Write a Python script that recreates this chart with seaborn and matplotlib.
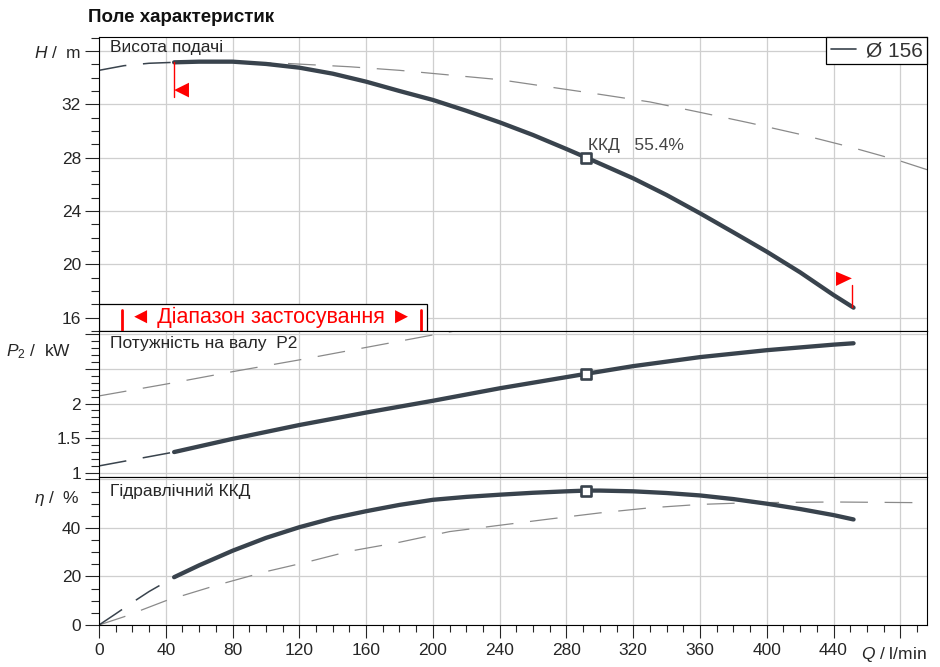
import matplotlib.pyplot as plt
import seaborn as sns
from matplotlib.ticker import MultipleLocator, FixedLocator
from matplotlib.lines import Line2D
from matplotlib.patches import Rectangle, Polygon

# --- data (Q in l/min) ---
q_h = [45, 60, 80, 100, 120, 140, 160, 180, 200, 220, 240, 260, 280, 292,
       320, 340, 360, 380, 400, 420, 440, 452]
h = [35.15, 35.2, 35.2, 35.03, 34.75, 34.3, 33.7, 33.0, 32.33, 31.52, 30.65, 29.7, 28.65, 28.0,
     26.45, 25.2, 23.83, 22.4, 20.95, 19.4, 17.7, 16.75]
q_h_ext = [0, 15, 30, 45]
h_ext = [34.55, 34.9, 35.08, 35.15]
q_h_alt = [60, 112, 150, 180, 210, 240, 270, 300, 330, 360, 390, 420, 450, 480, 496]
h_alt = [35.2, 35.07, 34.82, 34.55, 34.2, 33.85, 33.3, 32.75, 32.18, 31.4, 30.6, 29.75, 28.8, 27.75, 27.1]

q_p = [45, 80, 120, 160, 200, 240, 292, 320, 360, 400, 440, 452]
p2 = [1.30, 1.49, 1.69, 1.87, 2.04, 2.22, 2.43, 2.54, 2.67, 2.77, 2.85, 2.87]
q_p_ext = [0, 45]
p2_ext = [1.10, 1.30]
q_p_alt = [0, 40, 80, 120, 160, 200, 230]
p2_alt = [2.11, 2.28, 2.46, 2.63, 2.81, 2.99, 3.12]

q_eta = [45, 60, 80, 100, 120, 140, 160, 180, 200, 220, 240, 260, 280, 292, 300,
         320, 340, 360, 380, 400, 420, 440, 452]
eta = [19.7, 24.6, 30.6, 35.9, 40.3, 44.0, 46.9, 49.5, 51.6, 52.8, 53.7, 54.5, 55.1, 55.4, 55.4,
       55.1, 54.4, 53.4, 51.9, 50.0, 47.8, 45.3, 43.5]
q_eta_ext = [0, 10, 20, 30, 45]
eta_ext = [0, 4.6, 9.3, 13.8, 19.7]
q_eta_alt = [0, 15, 40, 70, 100, 125, 150, 180, 210, 240, 270, 300, 330, 360, 390, 440, 496]
eta_alt = [0, 3.4, 10.0, 16.3, 22.0, 26.0, 30.4, 34.1, 38.5, 41.1, 43.7, 46.2, 48.3, 49.7, 50.4, 50.7, 50.4]

bep_q = 292
bep_h = 28.0
bep_p = 2.43
bep_eta = 55.4

q_range = [45, 451]          # application range flags
x_ticks = [0, 40, 80, 120, 160, 200, 240, 280, 320, 360, 400, 440, 480]
x_tick_labels = ['0', '40', '80', '120', '160', '200', '240', '280', '320', '360', '400', '440', '']

DARK = '#39434d'
GREY = '#8a8a8a'
GRID = '#cfcfcf'
RED = '#ff0000'
DASH = (0, (20, 12))

sns.set_style("ticks")
plt.rcParams['font.family'] = ['Liberation Sans', 'DejaVu Sans']
plt.rcParams['mathtext.fontset'] = 'custom'
plt.rcParams['mathtext.rm'] = 'Liberation Sans'
plt.rcParams['mathtext.it'] = 'Liberation Sans:italic'
plt.rcParams['lines.scale_dashes'] = False
plt.rcParams['font.size'] = 12.5

fig = plt.figure(figsize=(9.4, 6.67), dpi=100)
L, W = 99 / 940, 828 / 940
ax_h = fig.add_axes([L, 1 - 331 / 667, W, 294 / 667])
ax_p = fig.add_axes([L, 1 - 477 / 667, W, 146 / 667])
ax_e = fig.add_axes([L, 1 - 625 / 667, W, 148 / 667])


def style_axes(ax, ymaj, ymin, ylim):
    ax.set_xlim(0, 496)
    ax.set_ylim(*ylim)
    ax.xaxis.set_major_locator(FixedLocator(x_ticks))
    ax.xaxis.set_minor_locator(MultipleLocator(10))
    ax.yaxis.set_major_locator(MultipleLocator(ymaj))
    ax.yaxis.set_minor_locator(MultipleLocator(ymin))
    ax.set_axisbelow(True)
    ax.grid(True, which='major', color=GRID, lw=0.9)
    for s in ax.spines.values():
        s.set_visible(True)
        s.set_color('black')
        s.set_linewidth(0.8)
    ax.tick_params(axis='y', which='major', length=10, width=0.8, pad=3, labelsize=12.5)
    ax.tick_params(axis='y', which='minor', length=6, width=0.8)
    ax.set_xlabel('')
    ax.set_ylabel('')


def draw_panel(ax, qx, yv, qe, ye, qa, ya, by):
    sns.lineplot(x=qa, y=ya, ax=ax, color=GREY, lw=0.9, linestyle=DASH)
    sns.lineplot(x=qe, y=ye, ax=ax, color=DARK, lw=1.1, linestyle=DASH)
    sns.lineplot(x=qx, y=yv, ax=ax, color=DARK, lw=3.1, solid_capstyle='round',
                 solid_joinstyle='round')
    sns.scatterplot(x=[bep_q], y=[by], ax=ax, marker='s', s=55, facecolor='white',
                    edgecolor=DARK, linewidth=1.9, zorder=5)


# --- head panel ---
draw_panel(ax_h, q_h, h, q_h_ext, h_ext, q_h_alt, h_alt, bep_h)
style_axes(ax_h, 4, 1, (15, 37.05))
ax_h.set_yticks([16, 20, 24, 28, 32, 36])
ax_h.set_yticklabels(['16', '20', '24', '28', '32', r'$\mathit{H}$ /  m'])
ax_h.tick_params(axis='x', which='both', length=0, labelbottom=False)
ax_h.text(0.013, 0.963, 'Висота подачі', transform=ax_h.transAxes, ha='left', va='center', fontsize=12.5)
ax_h.annotate('ККД   55.4%', xy=(bep_q, bep_h), xytext=(1, 9), textcoords='offset points',
              ha='left', va='center', fontsize=12.5, color='#444444')

# application range flags
ax_h.plot([q_range[0], q_range[0]], [35.15, 32.55], color=RED, lw=1.0)
ax_h.add_patch(Polygon([[q_range[0], 33.07], [53.9, 33.62], [53.9, 32.52]], closed=True,
                       color=RED, lw=0))
ax_h.plot([q_range[1], q_range[1]], [18.45, 16.82], color=RED, lw=1.0)
ax_h.add_patch(Polygon([[q_range[1], 18.95], [441.5, 19.45], [441.5, 18.38]], closed=True,
                       color=RED, lw=0))

# range box
ax_h.add_patch(Rectangle((0, 15), 196.3, 2.05, facecolor='white', edgecolor='black', lw=0.9, zorder=6))
ax_h.plot([13.8, 13.8], [15.1, 16.6], color=RED, lw=2.0, zorder=7)
ax_h.plot([192.8, 192.8], [15.1, 16.6], color=RED, lw=2.0, zorder=7)
ax_h.text(103.3, 15.98, '◄ Діапазон застосування ►', color=RED, ha='center', va='center',
          fontsize=15.5, zorder=7)

ax_h.legend(handles=[Line2D([0], [0], color=DARK, lw=1.2)], labels=['Ø 156'], loc='upper right',
            frameon=True, fancybox=False, edgecolor='black', framealpha=1, borderaxespad=0,
            fontsize=15, handlelength=1.2, handletextpad=0.5, borderpad=0.2,
            labelcolor='#333333').get_frame().set_linewidth(0.9)

# --- power panel ---
draw_panel(ax_p, q_p, p2, q_p_ext, p2_ext, q_p_alt, p2_alt, bep_p)
style_axes(ax_p, 0.5, 0.1, (0.94, 3.047))
ax_p.set_yticks([1, 1.5, 2, 2.5, 3])
ax_p.set_yticklabels(['1', '1.5', '2', '', ''])
ax_p.tick_params(axis='x', which='both', length=0, labelbottom=False)
ax_p.text(0.013, 0.911, 'Потужність на валу  P2', transform=ax_p.transAxes, ha='left', va='center',
          fontsize=12.5)
ax_p.text(-28 / 828, 0.856, r'$\mathit{P}_{\mathrm{2}}$ /  kW', transform=ax_p.transAxes,
          ha='right', va='center', fontsize=12.5)

# --- efficiency panel ---
draw_panel(ax_e, q_eta, eta, q_eta_ext, eta_ext, q_eta_alt, eta_alt, bep_eta)
style_axes(ax_e, 20, 5, (0, 61.0))
ax_e.set_yticks([0, 20, 40, 60])
ax_e.set_yticklabels(['0', '20', '40', ''])
ax_e.set_xticklabels(x_tick_labels)
ax_e.tick_params(axis='x', which='major', length=9, width=0.8, pad=4, labelsize=12.5)
ax_e.tick_params(axis='x', which='minor', length=5, width=0.8)
ax_e.text(0.013, 0.905, 'Гідравлічний ККД', transform=ax_e.transAxes, ha='left', va='center',
          fontsize=12.5)
ax_e.text(-19 / 828, 0.858, r'$\eta$ /  %', transform=ax_e.transAxes,
          ha='right', va='center', fontsize=12.5)
ax_e.text(1.0, -30 / 148, r'$\mathit{Q}$ / l/min', transform=ax_e.transAxes,
          ha='right', va='center', fontsize=12.5)

fig.text(88 / 940, 1 - 18 / 667, 'Поле характеристик', ha='left', va='center',
         fontsize=13.5, fontweight='bold', color='#111111')

fig.savefig('out.png', dpi=100)
